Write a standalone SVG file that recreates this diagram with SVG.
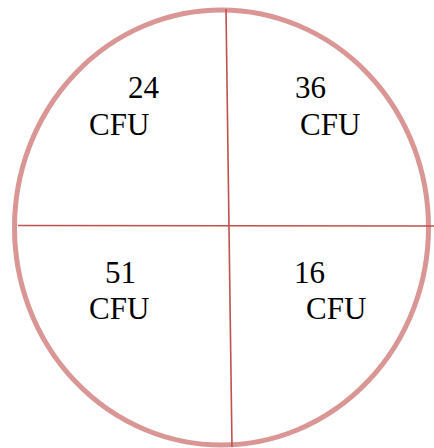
<svg xmlns="http://www.w3.org/2000/svg" width="434" height="448" viewBox="0 0 434 448">
<style>
.t{font-family:"Liberation Serif","Times New Roman",serif;font-size:31px;fill:#000}
.ln{stroke:#c0504d;stroke-width:1.6;fill:none}
</style>
<rect width="434" height="448" fill="#fff"/>
<g id="plate">
<ellipse cx="221.5" cy="227.5" rx="207" ry="217.5" fill="none" stroke="#d99694" stroke-width="5"/>
</g>
<g id="connectors">
<line class="ln" x1="226" y1="9" x2="232" y2="447"/>
<line class="ln" x1="18" y1="225.5" x2="434" y2="226"/>
</g>
<g id="q1"><text class="t" x="128" y="98">24</text><text class="t" x="89" y="135">CFU</text></g>
<g id="q2"><text class="t" x="295" y="98">36</text><text class="t" x="300" y="135">CFU</text></g>
<g id="q3"><text class="t" x="105" y="283">51</text><text class="t" x="89" y="319">CFU</text></g>
<g id="q4"><text class="t" x="294" y="283">16</text><text class="t" x="306" y="319">CFU</text></g>
</svg>
